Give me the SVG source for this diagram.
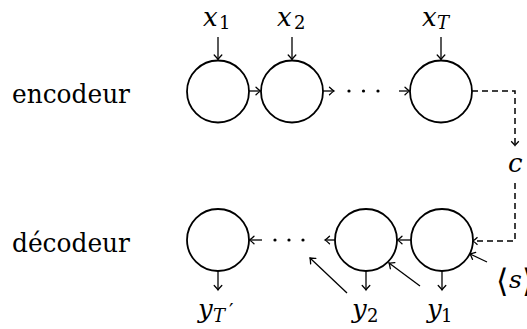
<svg xmlns="http://www.w3.org/2000/svg" width="527" height="329" viewBox="0 0 527 329">
<style>
.n{fill:#fff;stroke:#000;stroke-width:1.8}
.a{fill:none;stroke:#000;stroke-width:1.3}
.d{fill:none;stroke:#000;stroke-width:1.5;stroke-dasharray:6 4}
text{font-family:'DejaVu Serif',serif;fill:#000}
.m{font-style:italic}
.s{font-size:18px}
.si{font-style:italic;font-size:18px}
</style>
<defs>
<marker id="ah" markerUnits="userSpaceOnUse" markerWidth="12" markerHeight="12" viewBox="-6 -6 12 12" refX="0" refY="0" orient="auto" overflow="visible">
<path d="M-4.5,-3.8 Q-1.5,-0.9 0,0 Q-1.5,0.9 -4.5,3.8" fill="none" stroke="#000" stroke-width="1.3" stroke-linecap="round"/>
</marker>
</defs>
<text x="12" y="103" font-size="26" textLength="118" lengthAdjust="spacingAndGlyphs">encodeur</text>
<text x="12" y="252" font-size="26" textLength="118" lengthAdjust="spacingAndGlyphs">décodeur</text>
<g id="connectors">
<line class="a" x1="218" y1="37" x2="218" y2="59.5" marker-end="url(#ah)"/>
<line class="a" x1="292" y1="37" x2="292" y2="59.5" marker-end="url(#ah)"/>
<line class="a" x1="441" y1="37" x2="441" y2="59.5" marker-end="url(#ah)"/>
<line class="a" x1="249" y1="91" x2="260.5" y2="91" marker-end="url(#ah)"/>
<line class="a" x1="323" y1="91" x2="334" y2="91" marker-end="url(#ah)"/>
<line class="a" x1="399" y1="91" x2="409.5" y2="91" marker-end="url(#ah)"/>
<circle cx="349" cy="91" r="1.6"/>
<circle cx="363.5" cy="91" r="1.6"/>
<circle cx="378" cy="91" r="1.6"/>
<polyline class="d" points="472,91 515,91 515,145"/>
<path d="M511.2,141.2 Q514.1,144.2 515,145.5 Q515.9,144.2 518.8,141.2" fill="none" stroke="#000" stroke-width="1.3"/>
<polyline class="d" points="515,183 515,241 473,241"/>
<path d="M477.5,237.2 Q474.5,240.1 472.8,241 Q474.5,241.9 477.5,244.8" fill="none" stroke="#000" stroke-width="1.3"/>
<line class="a" x1="411" y1="240" x2="397.5" y2="240" marker-end="url(#ah)"/>
<line class="a" x1="335" y1="240" x2="325" y2="240" marker-end="url(#ah)"/>
<line class="a" x1="262" y1="240" x2="249.5" y2="240" marker-end="url(#ah)"/>
<circle cx="275" cy="240" r="1.6"/>
<circle cx="289" cy="240" r="1.6"/>
<circle cx="303" cy="240" r="1.6"/>
<line class="a" x1="218" y1="271" x2="218" y2="290" marker-end="url(#ah)"/>
<line class="a" x1="366" y1="271" x2="366" y2="290" marker-end="url(#ah)"/>
<line class="a" x1="442" y1="271" x2="442" y2="290" marker-end="url(#ah)"/>
<line class="a" x1="347" y1="293" x2="310" y2="258" marker-end="url(#ah)"/>
<line class="a" x1="420" y1="286" x2="389" y2="263" marker-end="url(#ah)"/>
<line class="a" x1="487" y1="262" x2="470" y2="254" marker-end="url(#ah)"/>
</g>
<g id="enc1"><circle class="n" cx="218" cy="91.5" r="31"/></g>
<g id="enc2"><circle class="n" cx="292" cy="91.5" r="31"/></g>
<g id="encT"><circle class="n" cx="441" cy="91.5" r="31"/></g>
<g id="decT"><circle class="n" cx="218" cy="240" r="31"/></g>
<g id="dec2"><circle class="n" cx="366" cy="240" r="31"/></g>
<g id="dec1"><circle class="n" cx="442" cy="240" r="31"/></g>
<g id="labels">
<text class="m" x="203" y="26" font-size="26">x</text><text class="s" x="219" y="29">1</text>
<text class="m" x="277" y="26" font-size="26">x</text><text class="s" x="294" y="29">2</text>
<text class="m" x="422" y="26" font-size="26">x</text><text class="si" x="437" y="29">T</text>
<text class="m" x="508" y="172" font-size="26">c</text>
<text class="m" x="198" y="318" font-size="26">y</text><text class="si" x="213" y="322">T</text><text x="229" y="318" font-size="20">′</text>
<text class="m" x="352" y="318" font-size="26">y</text><text class="s" x="367" y="322">2</text>
<text class="m" x="427" y="318" font-size="26">y</text><text class="s" x="441" y="322">1</text>
<text y="292" font-size="32"><tspan x="496">⟨</tspan><tspan x="509" y="288" font-style="italic" font-size="25">s</tspan><tspan x="522" y="292">⟩</tspan></text>
</g>
</svg>
